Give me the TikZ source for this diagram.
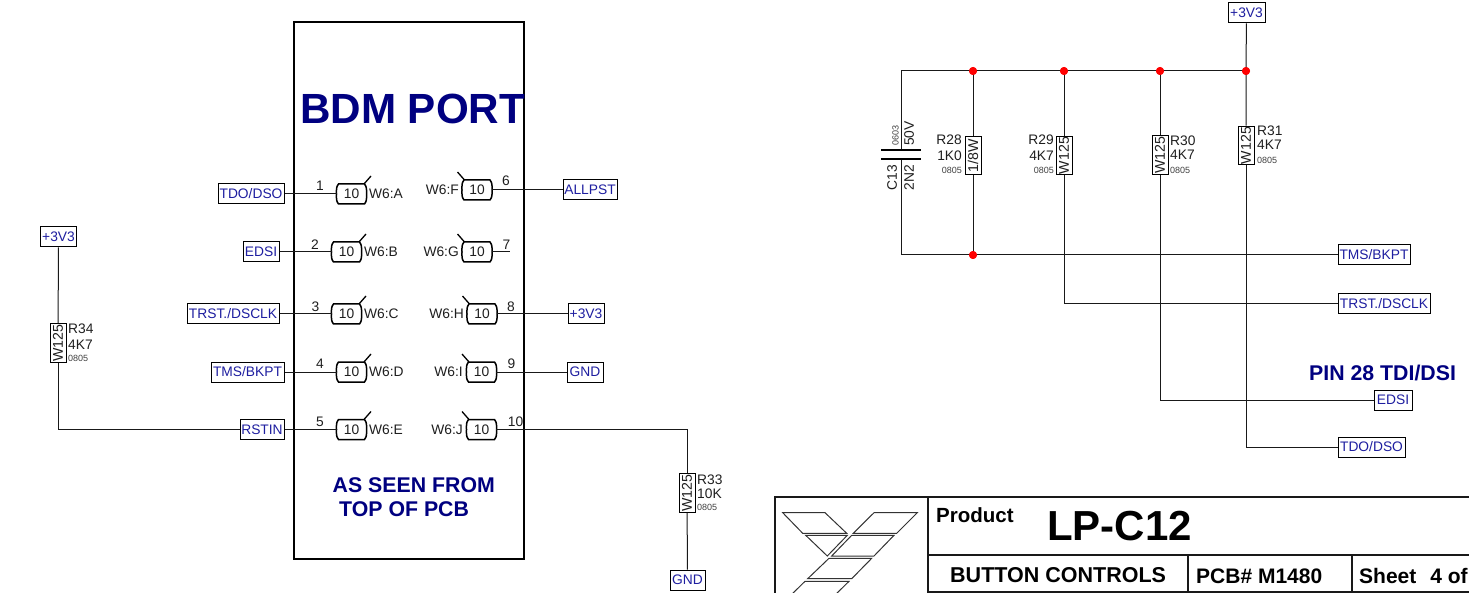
\documentclass[tikz,border=0pt]{standalone}
\usepackage{fontspec}
\setmainfont{Liberation Sans}
\newcommand{\fsz}[1]{\fontsize{#1}{#1}\selectfont}
\definecolor{netblue}{RGB}{30,30,160}
\definecolor{navyt}{RGB}{0,0,128}
\definecolor{txt}{RGB}{30,30,30}
\tikzset{
  wire/.style={line width=1pt,draw=black!90},
  netbox/.style={draw=black,line width=1pt,fill=white,text=netblue,inner sep=0pt,minimum height=20pt,font=\fsz{13.8}},
  resbox/.style={draw=black,line width=1pt,fill=white,text=txt,rotate=90,inner sep=0pt,minimum width=38.5pt,minimum height=16pt,font=\fsz{14.2}},
  lab/.style={inner sep=0pt,text=txt,font=\fsz{13.8}},
  tiny/.style={inner sep=0pt,text=txt!85,font=\fsz{9}},
  dot/.style={circle,fill=red,draw=none,minimum size=8pt,inner sep=0pt},
  bub/.style={inner sep=0pt,minimum width=29pt,minimum height=20pt,text=txt,font=\fsz{13.8}},
  headt/.style={inner sep=0pt,text=navyt,font=\bfseries\fsz{21.3}},
  titlet/.style={inner sep=0pt,text=black,font=\bfseries\fsz{21.5}},
  logo/.style={line width=1pt,draw=black!80},
  frame/.style={line width=1.6pt,draw=black!90}
}
% name, centre x, centre y, slash side (+1 right, -1 left)
\newcommand{\pinbub}[4]{%
  \node[bub] (#1) at (#2,#3) {10};
  \draw[line width=1.5pt,black] ([shift={(-13,-10)}]#1.center) -- ([shift={(13,-10)}]#1.center)
    to[out=-50,in=90] ([shift={(15,0)}]#1.center) to[out=-90,in=50] ([shift={(13,10)}]#1.center)
    -- ([shift={(-13,10)}]#1.center)
    to[out=130,in=-90] ([shift={(-15,0)}]#1.center) to[out=90,in=-130] cycle;
  \draw[line width=1.3pt,black] ([shift={(#4*12.5,-10)}]#1.center) -- ([shift={(#4*19.5,-18)}]#1.center);
}
\begin{document}
\begin{tikzpicture}[x=1pt,y=-1pt]
\useasboundingbox (0,0) rectangle (1469,593);
% BDM port
\node[draw=black,line width=2pt,minimum width=230pt,minimum height=537pt,inner sep=0pt] (port) at (409,290.5) {};
\node[inner sep=0pt,text=navyt,font=\bfseries\fsz{42.2},anchor=west] (title) at (300,109) {BDM PORT};
\node[headt,anchor=west] (seen1) at (332.5,485) {AS SEEN FROM};
\node[headt,anchor=west] (seen2) at (339,509) {TOP OF PCB};
% left pins
\pinbub{bA}{351.5}{194}{1}
\pinbub{bB}{346.5}{252}{1}
\pinbub{bC}{346.5}{314}{1}
\pinbub{bD}{351.5}{372}{1}
\pinbub{bE}{351.5}{429.5}{1}
% right pins
\pinbub{bF}{477}{190}{-1}
\pinbub{bG}{477}{252}{-1}
\pinbub{bH}{482}{314}{-1}
\pinbub{bI}{481.5}{372}{-1}
\pinbub{bJ}{481.5}{429.5}{-1}
\foreach \n/\x/\y/\t in {wA/369/194/W6:A,wB/364/252/W6:B,wC/364/314/W6:C,wD/369/372/W6:D,wE/369/429.5/W6:E}
  \node[lab,anchor=west] (\n) at (\x,\y) {\t};
\foreach \n/\x/\y/\t in {wF/459/190/W6:F,wG/459/252/W6:G,wH/464/314/W6:H,wI/463/372/W6:I,wJ/463/429.5/W6:J}
  \node[lab,anchor=east] (\n) at (\x,\y) {\t};
\foreach \n/\x/\y/\t in {n1/320/186/1,n2/315/244.5/2,n3/315.5/306.5/3,n4/320/364/4,n5/320/421.5/5,n6/506/181/6,n7/506.5/244.5/7,n8/511/306.5/8,n9/511.5/364/9,n10/515.5/421.5/10}
  \node[lab] (\n) at (\x,\y) {\t};
% left labels
\node[netbox,minimum width=66pt] (tdoL) at (251,194) {TDO/DSO};
\node[netbox,minimum width=36pt] (edsiL) at (261,252) {EDSI};
\node[netbox,minimum width=92pt] (trstL) at (233,314) {TRST./DSCLK};
\node[netbox,minimum width=73pt] (tmsL) at (247.5,372) {TMS/BKPT};
\node[netbox,minimum width=44pt] (rstin) at (262,429.5) {RSTIN};
% right labels
\node[netbox,minimum width=54pt] (allpst) at (590,190) {ALLPST};
\node[netbox,minimum width=36pt] (v33b) at (586,314) {+3V3};
\node[netbox,minimum width=36pt] (gndA) at (585,372) {GND};
\node[netbox,minimum width=35pt] (gndB) at (687.5,580) {GND};
\node[netbox,minimum width=36pt] (v33a) at (58.5,237) {+3V3};
% pin wires
\coordinate (p7end) at (510,252);
\draw[wire] (tdoL) -- (bA);
\draw[wire] (edsiL) -- (bB);
\draw[wire] (trstL) -- (bC);
\draw[wire] (tmsL) -- (bD);
\draw[wire] (rstin) -- (bE);
\draw[wire] (bF) -- (allpst);
\draw[wire] (bG) -- (p7end);
\draw[wire] (bH) -- (v33b);
\draw[wire] (bI) -- (gndA);
% resistors left part
\node[resbox] (r34) at (58,343) {W125};
\node[resbox] (r33) at (687,493) {W125};
\draw[wire] (v33a) -- (r34);
\draw[wire] (r34) |- (rstin);
\draw[wire] (bJ) -| (r33);
\draw[wire] (r33) -- (gndB);
\foreach \n/\x/\y/\t in {l34a/68/329/R34,l34b/68/345/4K7,l33a/697/480/R33,l33b/697/494/10K}
  \node[lab,anchor=west] (\n) at (\x,\y) {\t};
\node[tiny,anchor=west] (l34c) at (68,358) {0805};
\node[tiny,anchor=west] (l33c) at (697,507.5) {0805};
% right part
\node[netbox,minimum width=37pt] (v33c) at (1246.5,13) {+3V3};
\node[netbox,minimum width=72pt] (tmsR) at (1374,255) {TMS/BKPT};
\node[netbox,minimum width=92pt] (trstR) at (1384,303.5) {TRST./DSCLK};
\node[netbox,minimum width=38pt] (edsiR) at (1393,400) {EDSI};
\node[netbox,minimum width=67pt] (tdoR) at (1371.5,447) {TDO/DSO};
\node[resbox] (r28) at (973,155.5) {1/8W};
\node[resbox] (r29) at (1064,155.5) {W125};
\node[resbox] (r30) at (1160,155) {W125};
\node[resbox] (r31) at (1246,145.5) {W125};
\coordinate (ctl) at (901,71);
\coordinate (cbl) at (901,255);
\coordinate (cp1) at (901,150);
\coordinate (cp2) at (901,159);
\node[dot] (j1) at (973,71) {};
\node[dot] (j2) at (1064,71) {};
\node[dot] (j3) at (1160,71) {};
\node[dot] (j4) at (1246,71) {};
\node[dot] (j5) at (973,255) {};
\draw[wire] (cp1) -- (ctl) -- (j4.center);
\draw[wire] (cp2) -- (cbl) -- (tmsR);
\draw[wire] (v33c) -- (j4.center) -- (r31);
\draw[wire] (j1.center) -- (r28);
\draw[wire] (r28) -- (j5.center);
\draw[wire] (j2.center) -- (r29);
\draw[wire] (r29) |- (trstR);
\draw[wire] (j3.center) -- (r30);
\draw[wire] (r30) |- (edsiR);
\draw[wire] (r31) |- (tdoR);
\node[dot] at (j1) {};
\node[dot] at (j2) {};
\node[dot] at (j3) {};
\node[dot] at (j4) {};
\node[dot] at (j5) {};
\draw[line width=2pt,black] (881,150) -- (921,150);
\draw[line width=2pt,black] (881,159) -- (921,159);
\node[lab,anchor=east] (l28a) at (962,140) {R28};
\node[lab,anchor=east] (l28b) at (962,155.5) {1K0};
\node[tiny,anchor=east] (l28c) at (962,170) {0805};
\node[lab,anchor=east] (l29a) at (1054,140) {R29};
\node[lab,anchor=east] (l29b) at (1054,155.5) {4K7};
\node[tiny,anchor=east] (l29c) at (1054,170) {0805};
\node[lab,anchor=west] (l30a) at (1170,140.5) {R30};
\node[lab,anchor=west] (l30b) at (1170,155) {4K7};
\node[tiny,anchor=west] (l30c) at (1170,170) {0805};
\node[lab,anchor=west] (l31a) at (1257,131) {R31};
\node[lab,anchor=west] (l31b) at (1257,145) {4K7};
\node[tiny,anchor=west] (l31c) at (1257,160) {0805};
\node[lab,rotate=90,anchor=west] (c50) at (909,146) {50V};
\node[tiny,rotate=90,anchor=west] (c06) at (895.5,146) {0603};
\node[lab,rotate=90,anchor=east] (c2n) at (909,165) {2N2};
\node[lab,rotate=90,anchor=east] (c13) at (892,165) {C13};
\node[headt,anchor=west] (pin28) at (1309,373) {PIN 28 TDI/DSI};
% title block
\draw[frame] (1469,497) -- (775,497) -- (775,593);
\draw[frame] (928,497) -- (928,592) -- (1469,592);
\draw[frame] (928,555) -- (1469,555);
\draw[frame] (1188,555) -- (1188,592);
\draw[frame] (1352,555) -- (1352,592);
\draw[logo] (782.7,512.7) -- (825,512.7) -- (846.7,533.3) -- (802.7,533.3) -- cycle;
\draw[logo] (874,512.7) -- (917.3,512.7) -- (896.7,533.3) -- (853.3,533.3) -- cycle;
\draw[logo] (805.7,535.3) -- (847.3,535.3) -- (827.3,556) -- cycle;
\draw[logo] (851.7,535.3) -- (894,535.3) -- (874,556) -- (831.7,556) -- cycle;
\draw[logo] (829,558.3) -- (871.7,558.3) -- (851.7,578.7) -- (807.7,578.7) -- cycle;
\draw[logo] (785,601) -- (805,581.3) -- (849,581.3) -- (829,601);
\node[titlet,anchor=west,font=\bfseries\fsz{20.5}] (prod) at (936,515) {Product};
\node[titlet,anchor=west,font=\bfseries\fsz{42}] (lp) at (1047,526) {LP-C12};
\node[titlet,anchor=west] (btn) at (950,575) {BUTTON CONTROLS};
\node[titlet,anchor=west,font=\bfseries\fsz{21}] (pcb) at (1196,576) {PCB\# M1480};
\node[titlet,anchor=west,font=\bfseries\fsz{21}] (sheet) at (1359,576) {Sheet\hspace{14pt}4 of};
\end{tikzpicture}
\end{document}
